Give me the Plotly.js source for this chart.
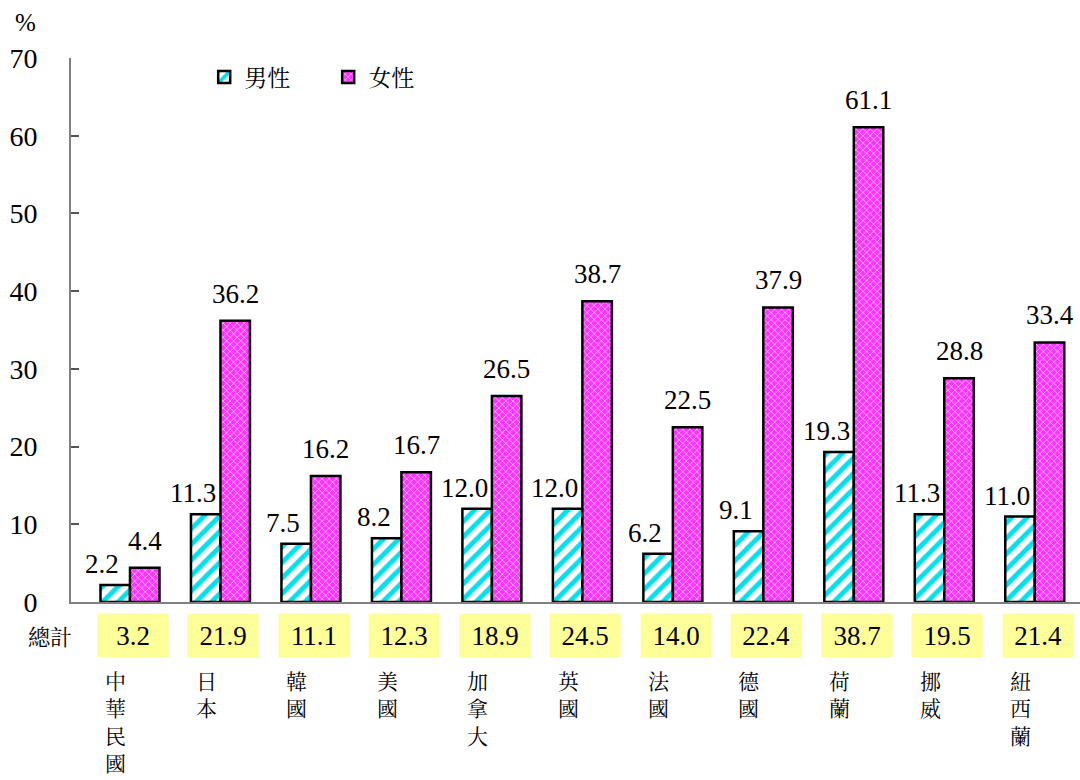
<!DOCTYPE html>
<html>
<head>
<meta charset="utf-8">
<script src="https://cdn.plot.ly/plotly-3.0.1.min.js"></script>
<style>html,body{margin:0;padding:0;background:#fff}#chart{width:1080px;height:780px}</style>
</head>
<body>
<div id="chart"></div>
<script>
const countries = ["中<br>華<br>民<br>國", "日<br>本", "韓<br>國", "美<br>國", "加<br>拿<br>大", "英<br>國", "法<br>國", "德<br>國", "荷<br>蘭", "挪<br>威", "紐<br>西<br>蘭"];
const male = [2.2, 11.3, 7.5, 8.2, 12.0, 12.0, 6.2, 9.1, 19.3, 11.3, 11.0];
const female = [4.4, 36.2, 16.2, 16.7, 26.5, 38.7, 22.5, 37.9, 61.1, 28.8, 33.4];
const total = [3.2, 21.9, 11.1, 12.3, 18.9, 24.5, 14.0, 22.4, 38.7, 19.5, 21.4];
const yTicks = [0, 10, 20, 30, 40, 50, 60, 70];

const idx = countries.map((c, i) => i);
const numFont = "Times New Roman";
const cjkFont = "Noto Serif CJK TC";
const bargap = 0.348;
const half = (1 - bargap) / 4;

const traces = [
  {
    type: "bar", name: "男性", x: idx, y: male,
    marker: {color: "#ffffff", line: {color: "#000", width: 2.5},
      pattern: {shape: "/", fgcolor: "#00e1f0", bgcolor: "#ffffff", size: 11, solidity: 0.45}},
    hoverinfo: "y"
  },
  {
    type: "bar", name: "女性", x: idx, y: female,
    marker: {color: "#ff33ff", line: {color: "#000", width: 2.5},
      pattern: {shape: "x", fgcolor: "#ffffff", bgcolor: "#ff33ff", size: 5, solidity: 0.2}},
    hoverinfo: "y"
  }
];

const ann = [];
male.forEach((v, i) => ann.push({x: i - half, y: v, xref: "x", yref: "y", text: v.toFixed(1),
  showarrow: false, xanchor: "center", yanchor: "bottom", xshift: -13, yshift: 4,
  font: {family: numFont, size: 27}}));
female.forEach((v, i) => ann.push({x: i + half, y: v, xref: "x", yref: "y", text: v.toFixed(1),
  showarrow: false, xanchor: "center", yanchor: "bottom", yshift: 10,
  font: {family: numFont, size: 27}}));
total.forEach((v, i) => ann.push({x: i, y: -0.0607, xref: "x", yref: "paper", text: v.toFixed(1),
  showarrow: false, xanchor: "center", yanchor: "middle", xshift: 3, width: 68, height: 41, bgcolor: "#ffff99",
  font: {family: numFont, size: 27}}));
countries.forEach((c, i) => ann.push({x: i, y: -0.112, xref: "x", yref: "paper", text: c,
  showarrow: false, xanchor: "center", yanchor: "top", xshift: -14,
  font: {family: cjkFont, size: 21}}));
ann.push({x: -0.0446, y: 1.066, xref: "paper", yref: "paper", text: "%", showarrow: false,
  xanchor: "center", yanchor: "middle", font: {family: numFont, size: 25}});
ann.push({xref: "paper", yref: "paper", x: -0.0208, y: -0.0607, text: "總計", showarrow: false,
  xanchor: "center", yanchor: "middle", font: {family: cjkFont, size: 22}});

const layout = {
  width: 1080, height: 780,
  font: {family: numFont, color: "#000"},
  margin: {l: 71, r: 0, t: 58, b: 178},
  paper_bgcolor: "#fff", plot_bgcolor: "#fff",
  barmode: "group", bargap: bargap, bargroupgap: 0,
  showlegend: true,
  legend: {orientation: "h", x: 0.132, y: 0.965, xanchor: "left", yanchor: "middle",
    font: {family: cjkFont, size: 23}, bgcolor: "rgba(0,0,0,0)", entrywidth: 79},
  xaxis: {range: [-0.652, 10.5], showticklabels: false, ticks: "", showgrid: false, zeroline: false,
    showline: true, linecolor: "#808080", linewidth: 2},
  yaxis: {range: [0, 70], tickvals: yTicks, ticktext: yTicks.map(String), ticks: "inside", ticklen: 8,
    tickcolor: "#555", tickwidth: 1.5, showgrid: false, zeroline: false, showline: true,
    linecolor: "#808080", linewidth: 2, tickfont: {family: numFont, size: 28},
    ticklabelstandoff: 26},
  annotations: ann
};

Plotly.newPlot("chart", traces, layout, {displayModeBar: false});
</script>
</body>
</html>
